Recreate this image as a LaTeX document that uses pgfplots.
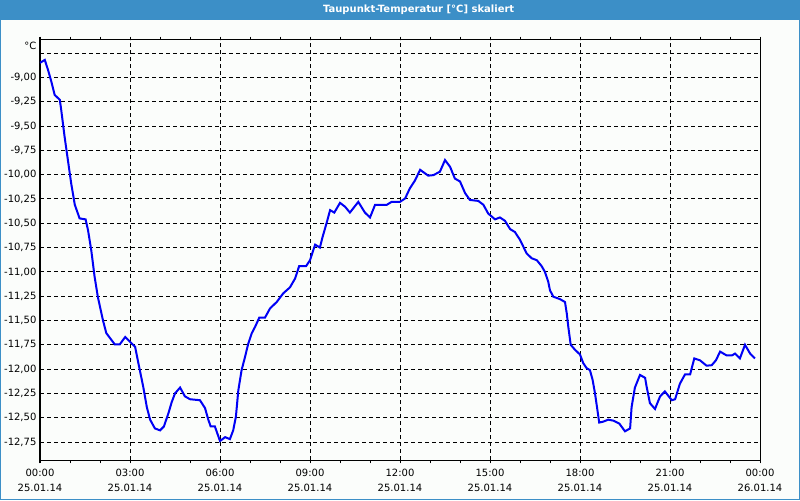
\documentclass[border=0pt]{standalone}
\usepackage{pgfplots}
\pgfplotsset{compat=1.18}
\usepackage{fontspec}
\setmainfont{DejaVu Sans}
\definecolor{barblue}{RGB}{60,143,199}
\definecolor{bg}{RGB}{251,253,251}
\pgfplotstableread{
h v
0.0 -8.85
0.16 -8.82
0.27 -8.925
0.38 -9.045
0.49 -9.18
0.66 -9.23
0.71 -9.34
0.82 -9.61
0.93 -9.85
1.04 -10.09
1.16 -10.31
1.32 -10.45
1.52 -10.46
1.6 -10.57
1.71 -10.78
1.82 -11.05
1.93 -11.26
2.1 -11.50
2.21 -11.63
2.49 -11.745
2.66 -11.745
2.84 -11.67
3.1 -11.75
3.17 -11.77
3.28 -11.94
3.44 -12.18
3.56 -12.39
3.67 -12.52
3.83 -12.61
4.0 -12.63
4.13 -12.59
4.28 -12.455
4.39 -12.34
4.5 -12.25
4.67 -12.19
4.83 -12.28
5.0 -12.31
5.33 -12.32
5.5 -12.40
5.61 -12.52
5.69 -12.59
5.83 -12.59
6.0 -12.74
6.17 -12.70
6.33 -12.72
6.44 -12.63
6.53 -12.49
6.61 -12.22
6.72 -12.01
6.83 -11.88
6.94 -11.74
7.06 -11.63
7.17 -11.565
7.31 -11.47
7.5 -11.47
7.67 -11.375
7.89 -11.31
8.11 -11.22
8.33 -11.16
8.5 -11.07
8.64 -10.94
8.87 -10.94
9.0 -10.88
9.17 -10.72
9.33 -10.75
9.42 -10.64
9.56 -10.49
9.67 -10.365
9.81 -10.39
10.0 -10.29
10.17 -10.33
10.33 -10.39
10.61 -10.28
10.83 -10.39
11.0 -10.44
11.17 -10.31
11.56 -10.31
11.72 -10.28
12.0 -10.28
12.17 -10.245
12.33 -10.14
12.5 -10.06
12.67 -9.95
12.94 -10.01
13.11 -10.005
13.33 -9.97
13.5 -9.85
13.67 -9.92
13.83 -10.04
14.0 -10.07
14.17 -10.19
14.33 -10.26
14.61 -10.27
14.78 -10.31
14.94 -10.40
15.17 -10.46
15.33 -10.44
15.5 -10.475
15.67 -10.56
15.83 -10.59
16.0 -10.67
16.22 -10.81
16.39 -10.86
16.56 -10.88
16.72 -10.94
16.83 -11.0
16.94 -11.10
17.0 -11.19
17.11 -11.255
17.33 -11.28
17.5 -11.31
17.56 -11.43
17.61 -11.565
17.69 -11.75
17.83 -11.80
18.0 -11.85
18.11 -11.94
18.22 -11.99
18.33 -12.01
18.42 -12.11
18.5 -12.25
18.58 -12.42
18.64 -12.55
18.78 -12.54
18.94 -12.52
19.11 -12.53
19.31 -12.56
19.5 -12.64
19.67 -12.61
19.72 -12.39
19.83 -12.19
20.0 -12.06
20.17 -12.09
20.22 -12.18
20.33 -12.35
20.5 -12.41
20.67 -12.28
20.83 -12.23
21.06 -12.32
21.17 -12.31
21.33 -12.15
21.5 -12.055
21.67 -12.055
21.81 -11.89
22.0 -11.91
22.22 -11.965
22.39 -11.96
22.53 -11.91
22.67 -11.82
22.89 -11.86
23.06 -11.86
23.17 -11.84
23.33 -11.89
23.5 -11.75
23.67 -11.84
23.83 -11.89
}\dewpoint
\begin{document}
\begin{tikzpicture}
\fill[bg] (0,0) rectangle (600pt,-375pt);
\fill[barblue] (0,0) rectangle (600pt,-15pt);
\draw[barblue, line width=0.75pt] (0.375pt,-15pt) -- (0.375pt,-374.625pt) -- (599.625pt,-374.625pt) -- (599.625pt,-15pt);
\node[text=white, inner sep=0pt, font=\bfseries\fontsize{7.5}{9}\selectfont] at (314pt,-7.5pt) {Taupunkt-Temperatur [°C] skaliert};
\node[anchor=east, inner sep=0pt, font=\fontsize{7.5}{9}\selectfont] at (27.5pt,-34.5pt) {°C};
\begin{axis}[
 at={(30pt,-345pt)}, anchor=south west,
 scale only axis, width=540pt, height=315pt,
 xmin=0, xmax=24, ymin=-12.935, ymax=-8.615,
 xtick={0,3,6,9,12,15,18,21,24},
 minor xtick={1,2,4,5,7,8,10,11,13,14,16,17,19,20,22,23},
 xticklabels={{00:00\\25.01.14},{03:00\\25.01.14},{06:00\\25.01.14},{09:00\\25.01.14},{12:00\\25.01.14},{15:00\\25.01.14},{18:00\\25.01.14},{21:00\\25.01.14},{00:00\\26.01.14}},
 ytick={-12.75,-12.5,-12.25,-12,-11.75,-11.5,-11.25,-11,-10.75,-10.5,-10.25,-10,-9.75,-9.5,-9.25,-9},
 yticklabels={{-12,75},{-12,50},{-12,25},{-12,00},{-11,75},{-11,50},{-11,25},{-11,00},{-10,75},{-10,50},{-10,25},{-10,00},{-9,75},{-9,50},{-9,25},{-9,00}},
 extra y ticks={-8.75}, extra y tick labels={},
 extra y tick style={grid=major},
 grid=major,
 major grid style={black, line width=0.75pt, dash pattern=on 3pt off 2.25pt},
 axis line style={black, line width=0.75pt},
 tick align=outside,
 major tick length=2.5pt, minor tick length=2.5pt,
 xtick style={black, line width=0.75pt},
 ytick style={draw=none},
 xticklabel style={align=center, inner sep=0pt, font=\fontsize{7.5}{11.25}\selectfont, yshift=-4pt},
 yticklabel style={inner sep=0pt, font=\fontsize{7.5}{9}\selectfont},
 axis background/.style={fill=bg},
]
\addplot[color={rgb,255:red,0;green,0;blue,245}, line width=1.5pt, mark=none] table[x=h, y=v] {\dewpoint};
\end{axis}
\pgfresetboundingbox
\path (0,0) rectangle (600pt,-375pt);
\end{tikzpicture}
\end{document}
